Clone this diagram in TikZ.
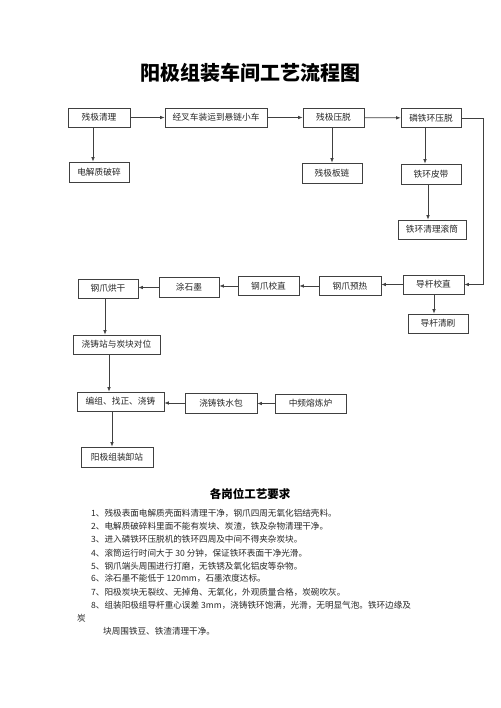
\documentclass[tikz,border=0pt]{standalone}
\usepackage{fontspec}
\newfontfamily\cjk{Noto Sans CJK SC}
\usetikzlibrary{arrows.meta, positioning}

\begin{document}
\begin{tikzpicture}[x=1pt, y=-1pt, >={Latex[length=4.5pt, width=3.6pt]},
    proc/.style={rectangle, draw=black!75, line width=0.8pt, inner sep=0pt,
      minimum height=19pt, minimum width=60pt, text=black!85,
      font=\cjk\fontsize{8.7}{10}\selectfont},
    flow/.style={->, draw=black!75, line width=0.7pt},
    req/.style={anchor=west, inner sep=0pt, text=black!85,
      font=\cjk\fontsize{8.6}{10}\selectfont}]

  \useasboundingbox (0,0) rectangle (500,708);

  % title
  \node[font=\cjk\bfseries\fontsize{20}{24}\selectfont] (title) at (250,73)
    {阳极组装车间工艺流程图};

  % top row
  \node[proc, minimum width=62pt] (clean) at (99,117.5) {残极清理};
  \node[proc, minimum width=102pt] (fork) at (216,117.5) {经叉车装运到悬链小车};
  \node[proc, minimum width=61pt] (press) at (333.5,117.5) {残极压脱};
  \node[proc] (ring) at (431,118) {磷铁环压脱};

  % second row
  \node[proc, minimum height=20pt] (crush) at (99,172) {电解质破碎};
  \node[proc, minimum height=20pt] (chain) at (332,173) {残极板链};
  \node[proc, minimum height=20pt] (belt) at (431,174) {铁环皮带};
  \node[proc, minimum width=68pt] (drum) at (432,229.5) {铁环清理滚筒};

  % steel stub row (right to left)
  \node[proc, minimum width=61pt] (rod) at (433.5,284.5) {导杆校直};
  \node[proc] (brush) at (438,323.5) {导杆清刷};
  \node[proc, minimum width=62pt] (heat) at (350,286) {钢爪预热};
  \node[proc, minimum width=61pt] (straight) at (268.5,286) {钢爪校直};
  \node[proc, minimum height=20pt] (graph) at (189,287.5) {涂石墨};
  \node[proc] (dry) at (108,288.5) {钢爪烘干};

  % casting
  \node[proc, minimum width=87pt] (align) at (116.5,344.5) {浇铸站与炭块对位};
  \node[proc, minimum width=87pt] (cast) at (120.5,401.5) {编组、找正、浇铸};
  \node[proc, minimum width=72pt, minimum height=20pt] (ladle) at (221,403) {浇铸铁水包};
  \node[proc, minimum width=71pt] (furnace) at (310.5,403.5) {中频熔炼炉};
  \node[proc, minimum width=72pt, minimum height=20pt] (unload) at (117,457) {阳极组装卸站};

  % connectors
  \draw[flow] (clean) -- (fork);
  \draw[flow] (fork) -- (press);
  \draw[flow] (press) -- (ring);
  \draw[flow] ([xshift=-6pt]clean.south) -- ([xshift=-6pt]clean.south |- crush.north);
  \draw[flow] (press.south -| chain) -- (chain.north);
  \draw[flow] ([xshift=-6pt]ring.south) -- ([xshift=-6pt]ring.south |- belt.north);
  \draw[flow] ([xshift=-3pt]belt.south) -- ([xshift=-3pt]belt.south |- drum.north);
  \draw[flow] (ring.east) -- ++(22,0) |- (rod.east);
  \draw[flow] ([xshift=-4pt]brush.north |- rod.south) -- ([xshift=-4pt]brush.north);
  \draw[flow] (rod.west) -- (rod.west -| heat.east);
  \draw[flow] (heat.west) -- (heat.west -| straight.east);
  \draw[flow] (straight.west) -- (straight.west -| graph.east);
  \draw[flow] (graph.west) -- (graph.west -| dry.east);
  \draw[flow] ([xshift=-3pt]dry.south) -- ([xshift=-3pt]dry.south |- align.north);
  \draw[flow] ([xshift=-7.5pt]align.south) -- ([xshift=-7.5pt]align.south |- cast.north);
  \draw[flow] ([xshift=-8.5pt]cast.south) -- ([xshift=-8.5pt]cast.south |- unload.north);
  \draw[flow] (furnace.west) -- (furnace.west -| ladle.east);
  \draw[flow] (ladle.west) -- (ladle.west -| cast.east);

  % process requirements
  \node[font=\cjk\bfseries\fontsize{11.5}{14}\selectfont] (reqtitle) at (250,494)
    {各岗位工艺要求};
  \node[req] (req1) at (91,513) {1、残极表面电解质壳面料清理干净，钢爪四周无氧化铝结壳料。};
  \node[req] (req2) at (91,526) {2、电解质破碎料里面不能有炭块、炭渣，铁及杂物清理干净。};
  \node[req] (req3) at (91,539) {3、进入磷铁环压脱机的铁环四周及中间不得夹杂炭块。};
  \node[req] (req4) at (91,553) {4、滚筒运行时间大于 30 分钟，保证铁环表面干净光滑。};
  \node[req] (req5) at (91,566) {5、钢爪端头周围进行打磨，无铁锈及氧化铝皮等杂物。};
  \node[req] (req6) at (91,578) {6、涂石墨不能低于 120mm，石墨浓度达标。};
  \node[req] (req7) at (91,592) {7、阳极炭块无裂纹、无掉角、无氧化，外观质量合格，炭碗吹灰。};
  \node[req] (req8) at (91,605) {8、组装阳极组导杆重心误差 3mm，浇铸铁环饱满，光滑，无明显气泡。铁环边缘及};
  \node[req] (req8b) at (77,618) {炭};
  \node[req] (req8c) at (103,631) {块周围铁豆、铁渣清理干净。};

\end{tikzpicture}
\end{document}
